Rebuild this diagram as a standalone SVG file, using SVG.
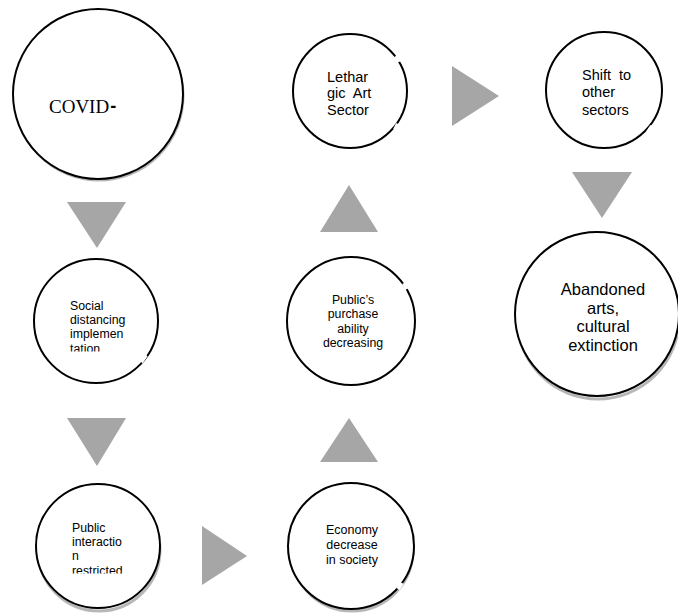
<svg xmlns="http://www.w3.org/2000/svg" width="678" height="614" viewBox="0 0 678 614">
<style>
.node{fill:#fff;stroke:#000;stroke-width:2}
.shadow{fill:none;stroke:#999;stroke-width:3;opacity:0.7}
.arrow{fill:#a6a6a6}
.t{font-family:"Liberation Sans",Arial,sans-serif;fill:#000}
.gap{stroke:#fff;stroke-width:4}
</style>
<defs>
<clipPath id="clipSocial"><rect x="0" y="250" width="200" height="101.5"/></clipPath>
<clipPath id="clipPublic"><rect x="0" y="500" width="200" height="73.5"/></clipPath>
</defs>
<g id="connectors">
<polygon class="arrow" points="67,202 126,202 97,248"/>
<polygon class="arrow" points="67,418 126,418 97,466"/>
<polygon class="arrow" points="202,526 247,556 202,585"/>
<polygon class="arrow" points="320,462 378,462 349,418"/>
<polygon class="arrow" points="320,232 378,232 349,185"/>
<polygon class="arrow" points="452,66 499,96 452,126"/>
<polygon class="arrow" points="572,172 632,172 602,218"/>
</g>
<g id="covid">
<ellipse class="shadow" cx="99" cy="96" rx="84" ry="84"/>
<circle class="node" cx="98" cy="94" r="85"/>
<text x="49" y="113" font-family="'Liberation Serif','Times New Roman',serif" font-size="19">COVID<tspan font-family="'Liberation Sans',Arial,sans-serif" font-weight="bold" font-size="18" dx="1" dy="-1">-</tspan></text>
</g>
<g id="social">
<circle class="node" cx="96" cy="321" r="62"/>
<line class="gap" x1="146" y1="355" x2="141" y2="362"/>
<g clip-path="url(#clipSocial)" class="t" font-size="12.3">
<text x="70" y="310">Social</text>
<text x="70" y="324">distancing</text>
<text x="70" y="338">implemen</text>
<text x="70" y="353">tation</text>
</g>
</g>
<g id="public">
<ellipse class="shadow" cx="99" cy="550" rx="61" ry="61"/>
<circle class="node" cx="98" cy="546" r="62"/>
<g clip-path="url(#clipPublic)" class="t" font-size="12.3">
<text x="72" y="532">Public</text>
<text x="72" y="546">interactio</text>
<text x="72" y="560">n</text>
<text x="72" y="575">restricted</text>
</g>
</g>
<g id="economy">
<ellipse class="shadow" cx="352" cy="550" rx="61" ry="61"/>
<circle class="node" cx="351" cy="546" r="63"/>
<line class="gap" x1="402" y1="583" x2="398" y2="589"/>
<g class="t" font-size="12.5" text-anchor="middle">
<text x="352" y="534">Economy</text>
<text x="352" y="549">decrease</text>
<text x="352" y="564">in society</text>
</g>
</g>
<g id="purchase">
<circle class="node" cx="351" cy="321" r="64"/>
<line class="gap" x1="404" y1="283" x2="407" y2="289"/>
<g class="t" font-size="12.3" text-anchor="middle">
<text x="353" y="304">Public’s</text>
<text x="353" y="318">purchase</text>
<text x="353" y="333">ability</text>
<text x="353" y="347">decreasing</text>
</g>
</g>
<g id="lethargic">
<circle class="node" cx="350" cy="91" r="57"/>
<line class="gap" x1="396" y1="56" x2="399" y2="62"/>
<line class="gap" x1="398" y1="124" x2="395" y2="130"/>
<g class="t" font-size="14.5">
<text x="327" y="82">Lethar</text>
<text x="327" y="98" xml:space="preserve">gic  Art</text>
<text x="327" y="115">Sector</text>
</g>
</g>
<g id="shift">
<circle class="node" cx="604" cy="90" r="58"/>
<line class="gap" x1="652" y1="126" x2="648" y2="132"/>
<g class="t" font-size="14.5">
<text x="582" y="80" xml:space="preserve">Shift  to</text>
<text x="582" y="97">other</text>
<text x="582" y="115">sectors</text>
</g>
</g>
<g id="abandoned">
<ellipse class="shadow" cx="598" cy="318" rx="81" ry="81"/>
<circle class="node" cx="597" cy="314" r="82"/>
<g class="t" font-size="16.5" text-anchor="middle">
<text x="603" y="295">Abandoned</text>
<text x="603" y="313.5">arts,</text>
<text x="603" y="332">cultural</text>
<text x="603" y="350.5">extinction</text>
</g>
</g>
</svg>
